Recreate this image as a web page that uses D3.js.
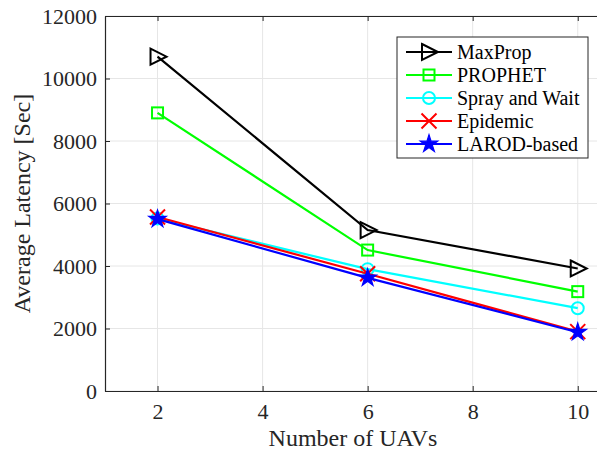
<!DOCTYPE html>
<html>
<head>
<meta charset="utf-8">
<script src="https://cdn.jsdelivr.net/npm/d3@7"></script>
<style>
  body { margin: 0; background: #fff; }
  svg { display: block; }
</style>
</head>
<body>
<div id="chart"></div>
<script>
// Data
const uavCounts = [2, 6, 10];
const maxProp = [10700, 5150, 3920];
const prophet = [8900, 4510, 3180];
const sprayAndWait = [5520, 3900, 2650];
const epidemic = [5570, 3750, 1900];
const larod = [5500, 3620, 1880];

const xTicks = [2, 4, 6, 8, 10];
const yTicks = [0, 2000, 4000, 6000, 8000, 10000, 12000];

const series = [
  { name: 'MaxProp', values: maxProp, color: '#000000', marker: 'triangle' },
  { name: 'PROPHET', values: prophet, color: '#00ff00', marker: 'square' },
  { name: 'Spray and Wait', values: sprayAndWait, color: '#00ffff', marker: 'circle' },
  { name: 'Epidemic', values: epidemic, color: '#ff0000', marker: 'cross' },
  { name: 'LAROD-based', values: larod, color: '#0000ff', marker: 'star' }
];

const FONT = '"Liberation Serif"';
const width = 597, height = 453;
const plotLeft = 105, plotTop = 16, plotBottom = 391, plotRight = 604;

const svg = d3.select('#chart').append('svg')
  .attr('width', width)
  .attr('height', height);

const x = d3.scaleLinear().domain([1, 10.5]).range([plotLeft, plotRight]);
const y = d3.scaleLinear().domain([0, 12000]).range([plotBottom, plotTop]);

// grid
const grid = svg.append('g').attr('stroke', '#e6e6e6').attr('stroke-width', 1);
xTicks.forEach(t => {
  grid.append('line').attr('x1', x(t)).attr('x2', x(t)).attr('y1', plotTop).attr('y2', plotBottom);
});
yTicks.forEach(t => {
  grid.append('line').attr('x1', plotLeft).attr('x2', plotRight).attr('y1', y(t)).attr('y2', y(t));
});

// axes (MATLAB style box, ticks inward)
const axisColor = '#262626';
const xAxis = svg.append('g')
  .attr('transform', `translate(0,${plotBottom})`)
  .call(d3.axisBottom(x).tickValues(xTicks).tickSizeInner(-5).tickSizeOuter(0).tickPadding(12));
const yAxis = svg.append('g')
  .attr('transform', `translate(${plotLeft},0)`)
  .call(d3.axisLeft(y).tickValues(yTicks).tickFormat(d3.format('d')).tickSizeInner(-5).tickSizeOuter(0).tickPadding(8));
const xTop = svg.append('g')
  .attr('transform', `translate(0,${plotTop})`)
  .call(d3.axisTop(x).tickValues(xTicks).tickSizeInner(-5).tickSizeOuter(0).tickFormat(''));

[xAxis, yAxis, xTop].forEach(a => {
  a.select('.domain').attr('stroke', axisColor).attr('stroke-width', 1.2);
  a.selectAll('.tick line').attr('stroke', axisColor);
  a.selectAll('.tick text')
    .attr('fill', axisColor)
    .style('font-family', FONT)
    .style('font-size', '22px');
});

// axis titles
svg.append('text')
  .attr('x', 353).attr('y', 446)
  .attr('text-anchor', 'middle')
  .style('font-family', FONT)
  .style('font-size', '24px')
  .attr('fill', axisColor)
  .text('Number of UAVs');

svg.append('text')
  .attr('transform', `translate(30,${(plotTop + plotBottom) / 2}) rotate(-90)`)
  .attr('text-anchor', 'middle')
  .style('font-family', FONT)
  .style('font-size', '24px')
  .attr('fill', axisColor)
  .text('Average Latency [Sec]');

// markers
function drawMarker(g, type, cx, cy, color) {
  if (type === 'triangle') {
    g.append('path')
      .attr('d', `M${cx - 7},${cy - 8} L${cx + 9},${cy} L${cx - 7},${cy + 8} Z`)
      .attr('fill', 'none').attr('stroke', color).attr('stroke-width', 2);
  } else if (type === 'square') {
    g.append('rect')
      .attr('x', cx - 5.5).attr('y', cy - 5.5).attr('width', 11).attr('height', 11)
      .attr('fill', 'none').attr('stroke', color).attr('stroke-width', 2);
  } else if (type === 'circle') {
    g.append('circle')
      .attr('cx', cx).attr('cy', cy).attr('r', 6)
      .attr('fill', 'none').attr('stroke', color).attr('stroke-width', 2);
  } else if (type === 'cross') {
    const s = 7.5;
    g.append('path')
      .attr('d', `M${cx - s},${cy - s} L${cx + s},${cy + s} M${cx - s},${cy + s} L${cx + s},${cy - s}`)
      .attr('stroke', color).attr('stroke-width', 2);
  } else if (type === 'star') {
    g.append('path')
      .attr('d', d3.symbol().type(d3.symbolStar).size(95)())
      .attr('transform', `translate(${cx},${cy})`)
      .attr('fill', color).attr('stroke', color).attr('stroke-width', 1.2);
  }
}

const line = d3.line()
  .x((d, i) => x(uavCounts[i]))
  .y(d => y(d));

const plot = svg.append('g');
series.forEach(s => {
  const g = plot.append('g');
  g.append('path')
    .datum(s.values)
    .attr('d', line)
    .attr('fill', 'none')
    .attr('stroke', s.color)
    .attr('stroke-width', 2.2);
  s.values.forEach((v, i) => drawMarker(g, s.marker, x(uavCounts[i]), y(v), s.color));
});

// legend
const legend = svg.append('g');
legend.append('rect')
  .attr('x', 397).attr('y', 37).attr('width', 191).attr('height', 121)
  .attr('fill', '#fff').attr('stroke', axisColor).attr('stroke-width', 1);
series.forEach((s, i) => {
  const ly = 52 + i * 23;
  const g = legend.append('g');
  g.append('line')
    .attr('x1', 406).attr('x2', 452).attr('y1', ly).attr('y2', ly)
    .attr('stroke', s.color).attr('stroke-width', 2.2);
  drawMarker(g, s.marker, 429, ly, s.color);
  g.append('text')
    .attr('x', 457).attr('y', ly + 7)
    .style('font-family', FONT)
    .style('font-size', '20px')
    .attr('fill', '#000')
    .text(s.name);
});
</script>
</body>
</html>
